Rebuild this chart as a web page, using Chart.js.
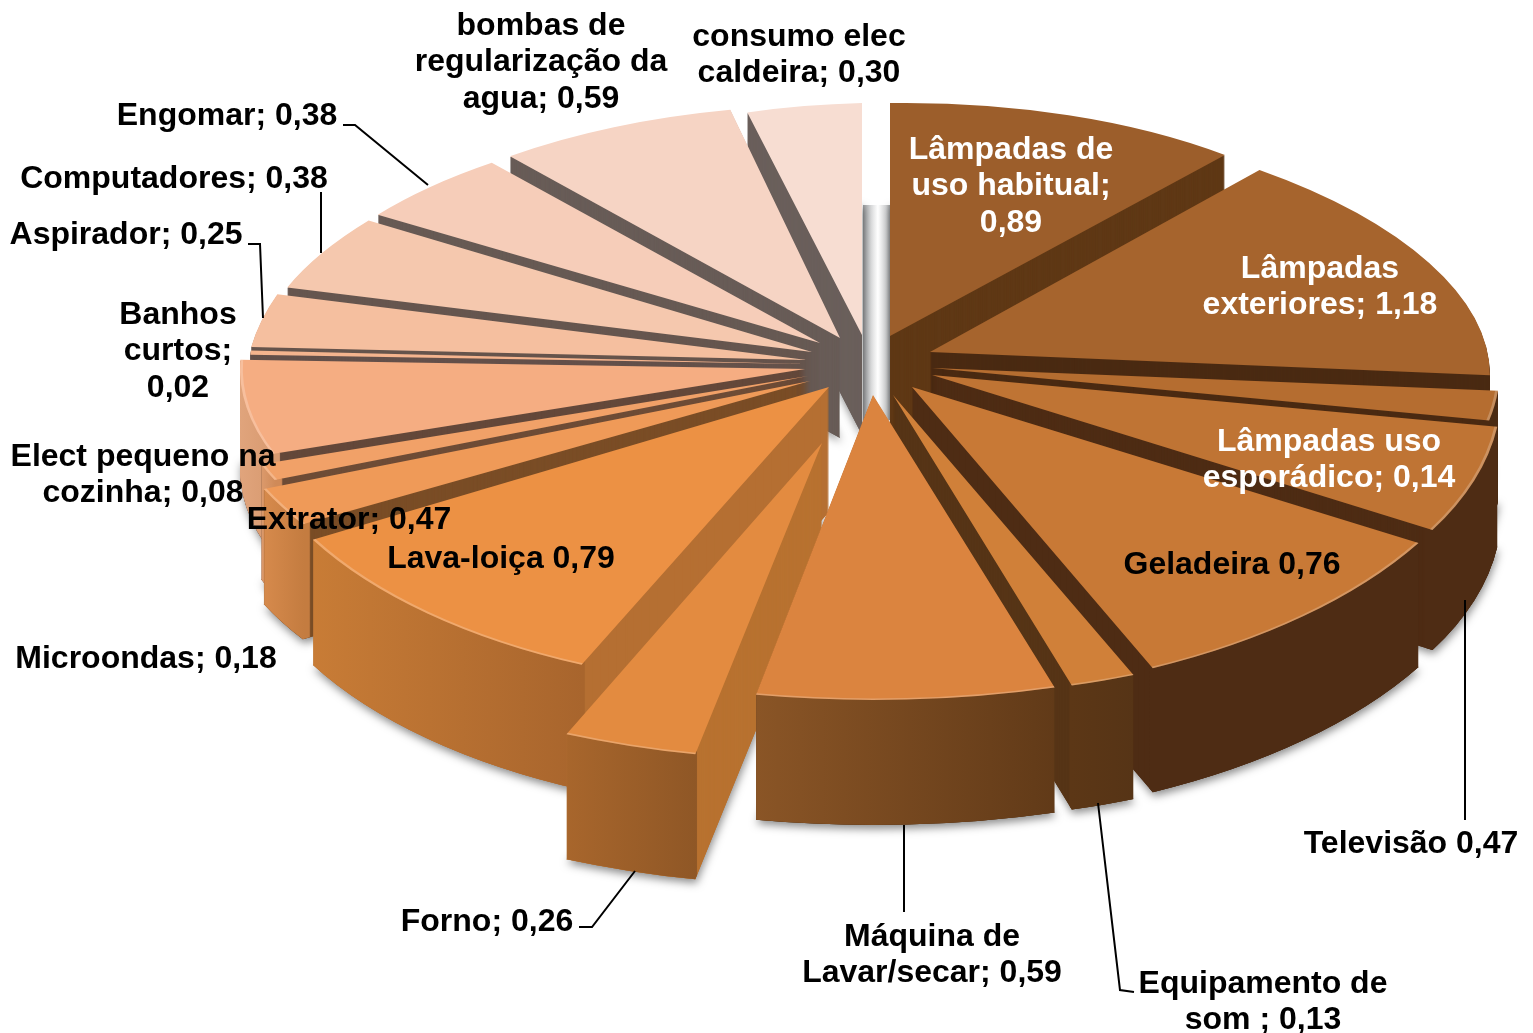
<!DOCTYPE html>
<html lang="pt">
<head>
<meta charset="utf-8">
<title>Consumo por equipamento</title>
<script src="https://cdn.jsdelivr.net/npm/chart.js@4"></script>
<style>
  html, body { margin: 0; background: #fff; }
  canvas { display: block; }
</style>
</head>
<body>
<canvas id="pie" width="1533" height="1033"></canvas>
<script>
/* ── Data ────────────────────────────────────────────────── */

const categories = [
  'Lâmpadas de uso habitual', 'Lâmpadas exteriores', 'Lâmpadas uso esporádico',
  'Televisão', 'Geladeira', 'Equipamento de som', 'Máquina de Lavar/secar',
  'Forno', 'Lava-loiça', 'Microondas', 'Elect pequeno na cozinha', 'Extrator',
  'Banhos curtos', 'Aspirador', 'Computadores', 'Engomar',
  'bombas de regularização da agua', 'consumo elec caldeira',
];
const values = [0.89, 1.18, 0.14, 0.47, 0.76, 0.13, 0.59, 0.26, 0.79, 0.18, 0.08, 0.47, 0.02, 0.25, 0.38, 0.38, 0.59, 0.30];

const topColors = ['#9c5e2b', '#a6642d', '#b56d30', '#bf7434', '#c87936', '#d08039', '#db843f', '#e38b40', '#ec9144', '#ef9a58', '#f1a168', '#f5ad82', '#f5b48e', '#f5bf9f', '#f5c8ae', '#f6cdb9', '#f6d4c4', '#f7ddd2'];
const radialColors = ['#5f3815', '#4a2a12', '#4a2a12', '#4e2c14', '#4e2c14', '#563416', '#573517', '#b87230', '#b56f32', '#7a4d26', '#6e4c36', '#64483a', '#64504a', '#66544c', '#66564f', '#675a54', '#685c57', '#6a5f5b'];
const wallLeft = ['#5f3815', '#4a2a12', '#4a2a12', '#4e2c14', '#4e2c14', '#5c3716', '#8a5526', '#a8662c', '#c87c36', '#d68a4c', '#dc9a6c', '#e0a47c', '#e0a47c', '#d8a88c', '#d8a88c', '#d8a88c', '#d8a88c', '#d8a88c'];
const wallRight = ['#5f3815', '#4a2a12', '#4a2a12', '#4e2c14', '#4e2c14', '#563416', '#613a18', '#8f5726', '#a8652d', '#c47c40', '#cf8a58', '#d89a70', '#d89a70', '#d8a88c', '#d8a88c', '#d8a88c', '#d8a88c', '#d8a88c'];

// per-slice projection of the flat pie: apex, radii and skew on screen, wall height
const projX = [890, 930, 932, 932, 912, 893, 873, 822, 829, 810, 808, 805, 806, 807, 812, 820, 840, 862];
const projY = [336, 352, 368, 375, 387, 395, 395, 443, 387, 381, 376, 369, 364, 360, 352, 343, 338, 335];
const radiusX = [513, 558, 568, 568, 592, 630, 640, 650, 590, 594, 580, 565, 556, 559, 556, 541, 523, 483];
const radiusY = [233, 243, 270, 296, 310, 303, 305, 318, 303, 275, 265, 255, 260, 268, 243, 232, 233, 232];
const skewX = [0, -46, 0, -42, -16, 0, 0, 8, 24, 0, 0, 0, 0, 47, 55, 33, 15, 0];
const skewY = [-7, 3, 0, -6, -14, 0, 0, 7, 6, 0, 0, 0, 0, -1, 4, 7, 8, -12];
const wallDepth = [100, 100, 110, 120, 124, 124, 125, 125, 125, 115, 115, 100, 100, 100, 100, 100, 100, 100];

/* ── Labels ──────────────────────────────────────────────── */

const labelLines = [
  ['Lâmpadas de', 'uso habitual;', '0,89'], ['Lâmpadas', 'exteriores; 1,18'], ['Lâmpadas uso', 'esporádico; 0,14'],
  ['Televisão 0,47'], ['Geladeira 0,76'], ['Equipamento de', 'som ; 0,13'], ['Máquina de', 'Lavar/secar; 0,59'],
  ['Forno; 0,26'], ['Lava-loiça 0,79'], ['Microondas; 0,18'], ['Elect pequeno na', 'cozinha; 0,08'], ['Extrator; 0,47'],
  ['Banhos', 'curtos;', '0,02'], ['Aspirador; 0,25'], ['Computadores; 0,38'], ['Engomar; 0,38'],
  ['bombas de', 'regularização da', 'agua; 0,59'], ['consumo elec', 'caldeira; 0,30'],
];
const labelX = [1011, 1320, 1329, 1411, 1232, 1263, 932, 487, 501, 146, 143, 349, 178, 126, 174, 227, 541, 799];
const labelY = [150, 269, 442, 844, 565, 984, 937, 922, 559, 659, 457, 520, 315, 235, 179, 116, 26, 37];
const labelSpacing = 36.5;
const whiteLabels = [0, 1, 2];

const leaderLines = [
  [[343, 125], [355, 125], [428, 185]],
  [[321, 192], [321, 253]],
  [[248, 244], [260, 244], [263, 318]],
  [[579, 927], [592, 927], [635, 871]],
  [[904, 825], [904, 912]],
  [[1098, 803], [1120, 990], [1134, 992]],
  [[1465, 600], [1465, 820]],
];

/* ── 3D plugin ───────────────────────────────────────────── */

function drawGhost(ctx, arc, i, drop, fill, inner) {
  const ghost = Object.create(arc);
  ghost.options = { ...arc.options, backgroundColor: fill, borderWidth: 0 };
  if (inner) ghost.innerRadius = arc.outerRadius * inner;
  const r = arc.outerRadius;
  ctx.save();
  ctx.translate(projX[i], projY[i] + drop);
  ctx.transform(radiusX[i] / r, skewY[i] / r, -skewX[i] / r, radiusY[i] / r, 0, 0);
  ctx.translate(-arc.x, -arc.y);
  ghost.draw(ctx);
  ctx.restore();
}

function wallGradient(ctx, arc, i) {
  const a = arc.x + arc.outerRadius * Math.cos(arc.startAngle);
  const b = arc.x + arc.outerRadius * Math.cos(arc.endAngle);
  const grad = ctx.createLinearGradient(Math.min(a, b), 0, Math.max(a, b) + 1, 0);
  grad.addColorStop(0, wallLeft[i]);
  grad.addColorStop(1, wallRight[i]);
  return grad;
}

const pie3d = {
  id: 'pie3d',
  beforeDatasetsDraw(chart) {
    const ctx = chart.ctx;
    const arcs = chart.getDatasetMeta(0).data;

    // silver post showing through the gap at the back
    const post = ctx.createLinearGradient(863, 0, 890, 0);
    post.addColorStop(0, '#9a9c9e');
    post.addColorStop(0.3, '#d8d9da');
    post.addColorStop(0.55, '#ffffff');
    post.addColorStop(0.85, '#d0d1d2');
    post.addColorStop(1, '#9a9c9e');
    ctx.fillStyle = post;
    ctx.fillRect(863, 205, 27, 215);

    const midSin = (a) => Math.sin((a.startAngle + a.endAngle) / 2);
    const order = arcs.map((_, i) => i).sort((p, q) => midSin(arcs[p]) - midSin(arcs[q]));

    order.forEach((i) => {
      const arc = arcs[i];
      const depth = wallDepth[i];
      const front = midSin(arc) > 0;

      ctx.save();
      ctx.shadowColor = 'rgba(0,0,0,0.45)';
      ctx.shadowBlur = 9;
      ctx.shadowOffsetX = 1;
      ctx.shadowOffsetY = 4;
      drawGhost(ctx, arc, i, depth, radialColors[i]);
      ctx.restore();
      for (let k = depth; k > 0; k--) drawGhost(ctx, arc, i, k, radialColors[i]);
      if (front) {
        const wall = wallGradient(ctx, arc, i);
        for (let k = depth; k > 0; k--) drawGhost(ctx, arc, i, k, wall, 0.985);
      }
      drawGhost(ctx, arc, i, 0, topColors[i]);
      if (front) drawGhost(ctx, arc, i, 0, 'rgba(255,255,255,0.22)', 0.995);
    });
    return false;
  },
  afterDraw(chart) {
    const ctx = chart.ctx;
    ctx.strokeStyle = '#000';
    ctx.lineWidth = 2;
    leaderLines.forEach((line) => {
      ctx.beginPath();
      line.forEach(([x, y], n) => (n ? ctx.lineTo(x, y) : ctx.moveTo(x, y)));
      ctx.stroke();
    });

    ctx.font = 'bold 32px "Liberation Sans", Arial, sans-serif';
    ctx.textAlign = 'center';
    ctx.textBaseline = 'middle';
    labelLines.forEach((lines, i) => {
      ctx.fillStyle = whiteLabels.includes(i) ? '#fff' : '#000';
      lines.forEach((text, n) => ctx.fillText(text, labelX[i], labelY[i] + n * labelSpacing));
    });
  },
};

new Chart(document.getElementById('pie'), {
  type: 'pie',
  data: {
    labels: categories,
    datasets: [{ data: values, backgroundColor: topColors, borderWidth: 0 }],
  },
  options: {
    responsive: false,
    animation: false,
    plugins: { legend: { display: false }, tooltip: { enabled: false } },
  },
  plugins: [pie3d],
});
</script>
</body>
</html>
